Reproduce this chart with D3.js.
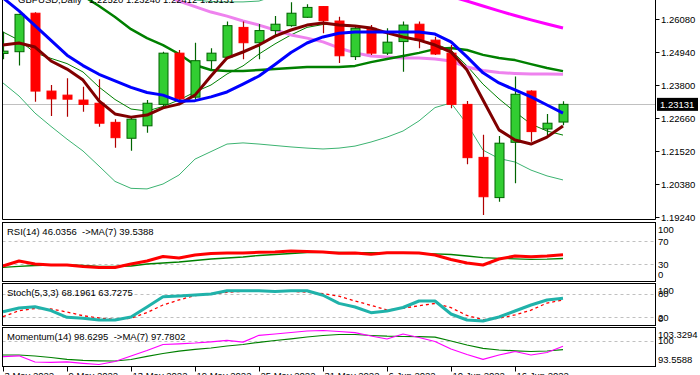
<!DOCTYPE html>
<html><head><meta charset="utf-8">
<script src="https://cdn.jsdelivr.net/npm/d3@7"></script>
<style>html,body{margin:0;padding:0;background:#fff;overflow:hidden}
text{font-family:"Liberation Sans",Arial,sans-serif;font-size:9.5px;fill:#000;white-space:pre}</style>
</head><body><svg id="c" width="700" height="375"></svg>
<script>
// ---------- data ----------
const dates = ["3 May 2022","4 May 2022","5 May 2022","6 May 2022","9 May 2022","10 May 2022","11 May 2022","12 May 2022","13 May 2022","16 May 2022","17 May 2022","18 May 2022","19 May 2022","20 May 2022","23 May 2022","24 May 2022","25 May 2022","26 May 2022","27 May 2022","30 May 2022","31 May 2022","1 Jun 2022","2 Jun 2022","3 Jun 2022","6 Jun 2022","7 Jun 2022","8 Jun 2022","9 Jun 2022","10 Jun 2022","13 Jun 2022","14 Jun 2022","15 Jun 2022","16 Jun 2022","17 Jun 2022","20 Jun 2022","21 Jun 2022"];
const open  = [1.2489,1.2495,1.2628,1.2359,1.2345,1.2328,1.2317,1.2251,1.2196,1.2239,1.2313,1.2490,1.2338,1.2464,1.2476,1.2579,1.2526,1.2568,1.2585,1.2614,1.2651,1.2601,1.2478,1.2576,1.2490,1.2530,1.2590,1.2535,1.2490,1.2313,1.2130,1.1991,1.2182,1.2359,1.2228,1.22520];
const high  = [1.2564,1.2626,1.2631,1.2380,1.2403,1.2374,1.2400,1.2262,1.2269,1.2328,1.2495,1.2501,1.2526,1.2507,1.2599,1.2599,1.2591,1.2618,1.2666,1.2659,1.2653,1.2616,1.2580,1.2587,1.2576,1.2599,1.2599,1.2547,1.2518,1.2325,1.2208,1.2204,1.2409,1.2362,1.2280,1.23240];
const low   = [1.2469,1.2447,1.2322,1.2273,1.2270,1.2288,1.2236,1.2163,1.2153,1.2215,1.2305,1.2322,1.2328,1.2434,1.2469,1.2469,1.2469,1.2553,1.2581,1.2612,1.2559,1.2456,1.2466,1.2484,1.2484,1.2426,1.2507,1.2484,1.2300,1.2106,1.1931,1.1977,1.2041,1.2184,1.2207,1.22412];
const close = [1.2497,1.2624,1.2359,1.2332,1.2331,1.2313,1.2248,1.2198,1.2262,1.2317,1.2490,1.2332,1.2464,1.2490,1.2585,1.2526,1.2568,1.2590,1.2628,1.2648,1.2602,1.2481,1.2576,1.2490,1.2528,1.2587,1.2535,1.2487,1.2313,1.2129,1.1994,1.2179,1.2348,1.2219,1.2248,1.23131];

const maBlue    = [1.2681,1.2636,1.2585,1.2534,1.2483,1.2447,1.2417,1.2394,1.2372,1.2354,1.2345,1.2324,1.2326,1.2339,1.2356,1.2383,1.2411,1.2451,1.2492,1.2525,1.2546,1.2559,1.2563,1.2563,1.2563,1.2563,1.2563,1.2556,1.2529,1.2477,1.2422,1.2387,1.2363,1.2339,1.2311,1.2283];
const maMaroon  = [1.2518,1.2525,1.2511,1.2463,1.2435,1.2397,1.2325,1.2280,1.2269,1.2276,1.2301,1.2314,1.2345,1.2411,1.2473,1.2494,1.2518,1.2549,1.2570,1.2587,1.2594,1.2587,1.2584,1.2577,1.2560,1.2546,1.2535,1.2518,1.2494,1.2432,1.2328,1.2225,1.2190,1.2176,1.2200,1.2238];
const maGreen   = [1.2846,1.2819,1.2788,1.2753,1.2719,1.2688,1.2653,1.2615,1.2573,1.2542,1.2518,1.2487,1.2449,1.2432,1.2428,1.2428,1.2432,1.2435,1.2439,1.2442,1.2442,1.2442,1.2446,1.2459,1.2470,1.2480,1.2491,1.2504,1.2508,1.2501,1.2484,1.2473,1.2466,1.2452,1.2439,1.2428];
const maViolet  = [1.2881,1.2864,1.2846,1.2829,1.2808,1.2788,1.2767,1.2746,1.2729,1.2708,1.2691,1.2670,1.2651,1.2632,1.2618,1.2601,1.2587,1.2570,1.2553,1.2542,1.2529,1.2508,1.2491,1.2480,1.2477,1.2473,1.2473,1.2470,1.2463,1.2442,1.2430,1.2423,1.2420,1.2418,1.2418,1.2417];
const maMagenta = [null,null,null,null,null,null,null,null,null,null,null,null,null,null,null,null,null,null,null,null,null,null,null,null,1.2755,1.2738,1.2720,1.2703,1.2686,1.2670,1.2653,1.2636,1.2620,1.2605,1.2591,1.2577];
const maThin    = [1.2563,1.2535,1.2491,1.2472,1.2454,1.2425,1.2373,1.2330,1.2297,1.2290,1.2306,1.2328,1.2356,1.2380,1.2418,1.2446,1.2487,1.2522,1.2553,1.2579,1.2589,1.2592,1.2584,1.2573,1.2560,1.2546,1.2535,1.2522,1.2501,1.2446,1.2383,1.2332,1.2287,1.2245,1.2221,1.2207];
const bbUpper   = [null,null,null,null,null,null,null,null,null,null,1.2743,1.2701,1.2674,1.2668,1.2667,1.2667,1.2670,1.2688,1.2715,1.2743,null,null,null,null,null,null,null,null,null,null,null,null,null,null,null,null];
const bbLower   = [1.2387,1.2342,1.2283,1.2237,1.2193,1.2152,1.2100,1.2047,1.2023,1.2021,1.2038,1.2069,1.2124,1.2150,1.2176,1.2180,1.2176,1.2171,1.2166,1.2162,1.2159,1.2162,1.2169,1.2183,1.2200,1.2221,1.2256,1.2302,1.2318,1.2245,1.2155,1.2126,1.2114,1.2086,1.2066,1.2052];

const rsi        = [26.5,35.2,30.0,28.3,28.3,25.7,23.9,23.9,30.0,35.2,43.0,40.4,45.7,48.3,49.1,49.1,50.3,50.9,52.6,51.7,50.9,48.6,49.1,46.9,49.7,49.7,49.1,45.7,37.8,31.7,28.3,38.7,43.9,42.7,43.9,46.0356];
const rsiMA      = [24.3,25.7,27.4,28.3,28.3,27.4,25.7,25.7,26.5,30.0,31.7,33.5,36.1,38.7,40.4,42.2,44.8,46.5,48.3,50.0,50.3,50.3,49.7,49.7,49.7,49.1,48.6,47.7,46.5,43.9,41.0,39.9,39.0,38.2,38.5,39.5388];
const stochMain  = [33.6,43.2,46.5,36.7,19.2,16.7,12.3,12.3,20.0,45.8,72.3,74.1,76.7,79.2,87.7,87.7,87.7,85.7,87.7,87.7,76.0,55.0,45.8,31.1,35.5,44.5,61.2,61.2,27.7,12.3,9.7,20.0,35.5,50.9,63.8,68.1961];
const stochSig   = [20.8,36.2,41.9,40.6,32.9,23.3,17.4,14.1,16.7,31.6,50.9,63.8,75.4,78.5,83.6,86.2,87.5,87.0,86.2,83.9,80.3,73.6,61.2,50.1,38.0,42.4,49.1,54.8,44.0,23.9,13.3,16.9,25.2,37.5,56.0,63.7275];
const momentum   = [95.95,96.18,94.59,94.51,94.64,94.25,93.94,94.72,96.13,97.54,99.09,99.27,99.47,99.78,100.17,99.70,101.45,101.79,102.17,102.56,102.69,102.43,102.12,101.27,100.50,101.79,100.89,99.86,97.93,96.52,95.28,96.39,97.29,96.39,97.03,98.6295];
const momentumMA = [96.39,96.39,96.13,95.74,95.28,95.02,94.90,94.84,95.23,96.05,96.77,97.36,97.85,98.19,98.70,99.09,99.65,100.11,100.55,101.01,101.40,101.66,101.66,101.40,101.22,101.14,101.09,100.99,99.99,98.96,98.11,97.67,97.47,97.29,97.41,97.7802];

const priceTicks = [1.26080,1.24940,1.23800,1.22660,1.21520,1.20380,1.19240];
const rsiTicks = [100,70,30,0], rsiLevels = [70,30];
const stochTicks = [100,80,20,0], stochLevels = [80,20];
const momTicks = [103.3294,100,93.5588], momLevels = [100];
const xTickEvery = 4;
const titleText = "GBPUSD,Daily", titleValues = "1.22520 1.23240 1.22412 1.23131";
const rsiLabel = "RSI(14) 46.0356  ->MA(7) 39.5388";
const stochLabel = "Stoch(5,3,3) 68.1961 63.7275";
const momLabel = "Momentum(14) 98.6295  ->MA(7) 97.7802";
const lastPrice = close[close.length-1];

// ---------- layout ----------
const svg = d3.select("#c");
const L = 2.5, R = 655.5;
const panels = {
  main: {top:-5, bottom:219.5},
  rsi: {top:222.5, bottom:281.5},
  stoch: {top:283.5, bottom:325.5},
  mom: {top:327.5, bottom:366.5}
};
const idx = d3.range(dates.length);
const x = d3.scaleLinear().domain([0, dates.length-1]).range([3, 563]);
const yP = d3.scaleLinear().domain([1.19240, 1.26080]).range([217, 19]);
const yR = d3.scaleLinear().domain([30, 70]).range([264, 241]);
const yS = d3.scaleLinear().domain([20, 80]).range([317, 293.7]);
const yM = d3.scaleLinear().domain([93.5588, 103.3294]).range([366, 328]);

const defs = svg.append("defs");
Object.entries(panels).forEach(([k,p]) => {
  defs.append("clipPath").attr("id","clip-"+k).append("rect")
    .attr("x", L).attr("y", p.top).attr("width", R-L).attr("height", p.bottom-p.top);
});

function drawLine(g, data, y, color, w, dash) {
  const line = d3.line().defined(d => d[1] != null).x(d => x(d[0])).y(d => y(d[1]));
  g.append("path").datum(idx.map(i => [i, data[i]]))
    .attr("d", line).attr("fill","none").attr("stroke", color).attr("stroke-width", w)
    .attr("stroke-linejoin","round").attr("stroke-dasharray", dash || null);
}

// ---------- main panel ----------
const gMain = svg.append("g").attr("clip-path","url(#clip-main)");
gMain.append("line").attr("x1",L).attr("x2",R).attr("y1",Math.round(yP(lastPrice))+0.5).attr("y2",Math.round(yP(lastPrice))+0.5)
  .attr("stroke","#c0c0c0").attr("stroke-width",1);

drawLine(gMain, bbUpper, yP, "#3cb371", 1);
drawLine(gMain, bbLower, yP, "#3cb371", 1);
drawLine(gMain, maThin, yP, "#008000", 1);
drawLine(gMain, maMagenta, yP, "#ff00ff", 3);
drawLine(gMain, maViolet, yP, "#ee82ee", 3);
drawLine(gMain, maGreen, yP, "#008000", 2.5);

// candles
const cg = gMain.append("g");
idx.forEach(i => {
  const bull = close[i] >= open[i];
  const cx = Math.round(x(i)) + 0.5;
  cg.append("line").attr("x1",cx).attr("x2",cx).attr("y1",yP(high[i])).attr("y2",yP(low[i]))
    .attr("stroke", bull ? "#006400" : "#b00000").attr("stroke-width",1.2);
  const yt = yP(Math.max(open[i],close[i])), yb = yP(Math.min(open[i],close[i]));
  cg.append("rect").attr("x", cx-4.5).attr("y", yt).attr("width", 9).attr("height", Math.max(1, yb-yt))
    .attr("fill", bull ? "#32cd32" : "#ff0000").attr("stroke", bull ? "#006400" : "#ff0000").attr("stroke-width",1);
});

drawLine(gMain, maMaroon, yP, "#800000", 3);
drawLine(gMain, maBlue, yP, "#0000ff", 3);

// title (mostly cut off at top)
svg.append("text").attr("x",18).attr("y",2.5).text(titleText);
svg.append("text").attr("x",89).attr("y",2.5).text(titleValues);

// ---------- indicator panels ----------
function levels(key, y, lv) {
  svg.append("g").selectAll("line").data(lv).join("line")
    .attr("x1",L).attr("x2",R).attr("y1",d=>Math.round(y(d))+0.5).attr("y2",d=>Math.round(y(d))+0.5)
    .attr("stroke","#c0c0c0").attr("stroke-dasharray","3,3").attr("stroke-width",1);
}
levels("rsi", yR, rsiLevels);
levels("stoch", yS, stochLevels);
levels("mom", yM, momLevels);

const gR = svg.append("g").attr("clip-path","url(#clip-rsi)");
drawLine(gR, rsiMA, yR, "#008000", 1.3);
drawLine(gR, rsi, yR, "#ff0000", 3);
const gS = svg.append("g").attr("clip-path","url(#clip-stoch)");
drawLine(gS, stochSig, yS, "#ff0000", 1.3, "3,3");
drawLine(gS, stochMain, yS, "#20b2aa", 3);
const gM = svg.append("g").attr("clip-path","url(#clip-mom)");
drawLine(gM, momentumMA, yM, "#008000", 1.2);
drawLine(gM, momentum, yM, "#ff00ff", 1.2);

svg.append("text").attr("x",7).attr("y",235).text(rsiLabel);
svg.append("text").attr("x",7).attr("y",296).text(stochLabel);
svg.append("text").attr("x",7).attr("y",340).text(momLabel);

// ---------- frames ----------
const frame = svg.append("g").attr("fill","none").attr("stroke","#000").attr("stroke-width",1);
frame.append("line").attr("x1",L).attr("x2",L).attr("y1",0).attr("y2",panels.main.bottom);
frame.append("line").attr("x1",R).attr("x2",R).attr("y1",0).attr("y2",panels.main.bottom);
frame.append("line").attr("x1",L).attr("x2",R).attr("y1",panels.main.bottom).attr("y2",panels.main.bottom);
["rsi","stoch","mom"].forEach(k => {
  const p = panels[k];
  frame.append("rect").attr("x",L).attr("y",p.top).attr("width",R-L).attr("height",p.bottom-p.top);
});

// ---------- right axes ----------
const ax = svg.append("g");
priceTicks.forEach(v => {
  const yy = Math.round(yP(v)) + 0.5;
  ax.append("line").attr("x1",R).attr("x2",R+4).attr("y1",yy).attr("y2",yy).attr("stroke","#000");
  ax.append("text").attr("x",661).attr("y",yy+3.5).text(d3.format(".5f")(v));
});
// current price box
const yl = yP(lastPrice);
ax.append("rect").attr("x",657).attr("y",yl-6.5).attr("width",41).attr("height",13).attr("fill","#000");
ax.append("text").attr("x",660).attr("y",yl+3.5).style("fill","#fff").text(d3.format(".5f")(lastPrice));

function panelLabels(key, y, ticks, fmt) {
  const p = panels[key];
  ticks.forEach(v => {
    const yy = Math.max(p.top+7, Math.min(p.bottom-7, y(v)));
    ax.append("text").attr("x",658).attr("y",yy+3.5).text(fmt(v));
  });
}
panelLabels("rsi", yR, rsiTicks, d => String(d));
panelLabels("stoch", yS, stochTicks, d => String(d));
panelLabels("mom", yM, momTicks, d => String(d));

// ---------- x axis ----------
const xt = idx.filter(i => i % xTickEvery === 0);
xt.forEach(i => {
  const xx = Math.round(x(i)) + 0.5;
  svg.append("line").attr("x1",xx).attr("x2",xx).attr("y1",panels.mom.bottom).attr("y2",panels.mom.bottom+5).attr("stroke","#000");
  svg.append("text").attr("x",xx+1).attr("y",379).text(dates[i]);
});
</script></body></html>
